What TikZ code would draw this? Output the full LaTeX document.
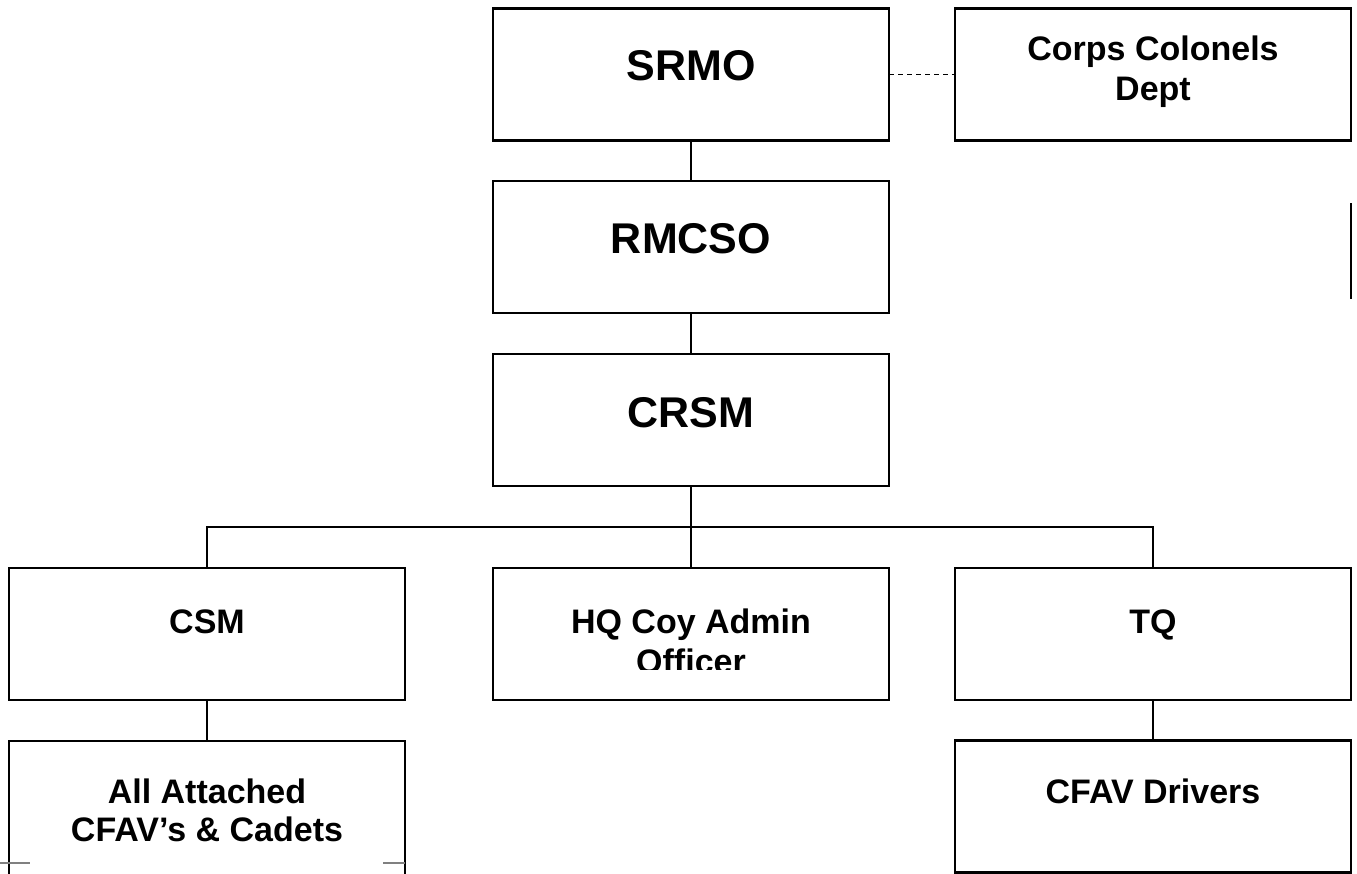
\documentclass[tikz,border=0pt]{standalone}
\usepackage{fontspec}
\setmainfont{Liberation Sans}
\begin{document}
\begin{tikzpicture}[x=1pt,y=-1pt,
  box/.style={draw=black, line width=2.3pt, minimum width=396pt, minimum height=132pt, inner sep=0pt, outer sep=0pt},
  conn/.style={draw=black, line width=2pt},
  bigtxt/.style={font=\bfseries\fontsize{43}{50}\selectfont, anchor=base, inner sep=0pt},
  smalltxt/.style={font=\bfseries\fontsize{34}{39}\selectfont, anchor=base, inner sep=0pt, align=center}
]
\useasboundingbox (0,0) rectangle (1357,873);
\clip (0,0) rectangle (1357,873);

% boxes
\node[box] (srmo) at (691,74.5) {};
\node[box] (corps) at (1153,74.5) {};
\node[box] (rmcso) at (691,247) {};
\node[box] (crsm) at (691,420) {};
\node[box] (csm) at (207,634) {};
\node[box] (hq) at (691,634) {};
\node[box] (tq) at (1153,634) {};
\node[box, minimum height=140pt] (att) at (207,811) {};
\node[box] (drv) at (1153,806.5) {};

% texts
\node[bigtxt] (tsrmo) at (691,80) {SRMO};
\node[bigtxt] (trmcso) at (691,253) {RMCSO};
\node[bigtxt] (tcrsm) at (691,427) {CRSM};
\node[smalltxt] (tcorps1) at (1153,60) {Corps Colonels};
\node[smalltxt] (tcorps2) at (1153,100) {Dept};
\node[smalltxt] (tcsm) at (207,633) {CSM};
\node[smalltxt] (ttq) at (1153,633) {TQ};
\node[smalltxt] (thq1) at (691,633) {HQ Coy Admin};
\begin{scope}
  \clip (493,640) rectangle (889,669.5);
  \node[smalltxt] (thq2) at (691,673) {Officer};
\end{scope}
\node[smalltxt] (tatt1) at (207,803) {All Attached};
\node[smalltxt] (tatt2) at (207,841) {CFAV’s \& Cadets};
\node[smalltxt] (tdrv) at (1153,803) {CFAV Drivers};

% connectors
\draw[conn] (srmo.south) -- (rmcso.north);
\draw[conn] (rmcso.south) -- (crsm.north);
\draw[conn, dash pattern=on 5pt off 4pt, line width=1.7pt] (srmo.east) -- (corps.west);
\coordinate (bus) at (691,527);
\draw[conn] (crsm.south) -- (bus) -- (hq.north);
\draw[conn] (csm.north) |- (bus) -| (tq.north);
\draw[conn] (csm.south) -- (att.north);
\draw[conn] (tq.south) -- (drv.north);

% stray line at right edge
\coordinate (s1) at (1351,203);
\coordinate (s2) at (1351,299);
\draw[conn, line width=2.3pt] (s1) -- (s2);

% grey ticks at bottom left
\draw[gray, line width=1.4pt] (0,863) -- (30,863);
\draw[gray, line width=1.4pt] (383,863) -- (405,863);
\end{tikzpicture}
\end{document}
